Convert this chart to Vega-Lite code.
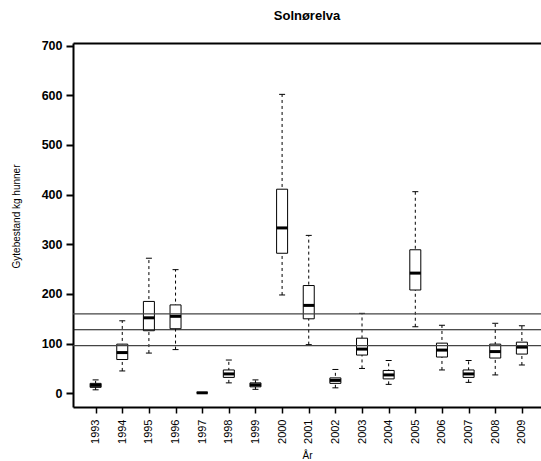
{
  "$schema": "https://vega.github.io/schema/vega-lite/v6.json",
  "autosize": "none",
  "width": 468,
  "height": 364,
  "padding": {"left": 73, "top": 43, "right": 0, "bottom": 54},
  "background": "white",
  "config": {
    "view": {"stroke": null},
    "font": "Liberation Sans"
  },
  "title": {
    "text": "Solnørelva",
    "fontSize": 13,
    "fontWeight": "bold",
    "font": "Liberation Sans",
    "color": "black",
    "offset": 17
  },
  "datasets": {
    "boxes": [
      {"year": 1993, "lo": 7, "q1": 12, "med": 16, "q3": 20, "hi": 27},
      {"year": 1994, "lo": 45, "q1": 68, "med": 82, "q3": 99, "hi": 146},
      {"year": 1995, "lo": 81, "q1": 126, "med": 152, "q3": 185, "hi": 272},
      {"year": 1996, "lo": 88, "q1": 130, "med": 155, "q3": 178, "hi": 249},
      {"year": 1997, "lo": 1, "q1": 1, "med": 1, "q3": 1, "hi": 1},
      {"year": 1998, "lo": 21, "q1": 32, "med": 39, "q3": 47, "hi": 67},
      {"year": 1999, "lo": 8, "q1": 13, "med": 17, "q3": 21, "hi": 27},
      {"year": 2000, "lo": 198, "q1": 282, "med": 333, "q3": 411, "hi": 602},
      {"year": 2001, "lo": 98, "q1": 150, "med": 177, "q3": 217, "hi": 318},
      {"year": 2002, "lo": 11, "q1": 20, "med": 26, "q3": 31, "hi": 48},
      {"year": 2003, "lo": 50, "q1": 77, "med": 89, "q3": 111, "hi": 161},
      {"year": 2004, "lo": 18, "q1": 29, "med": 37, "q3": 46, "hi": 66},
      {"year": 2005, "lo": 134, "q1": 208, "med": 242, "q3": 289, "hi": 406},
      {"year": 2006, "lo": 47, "q1": 73, "med": 87, "q3": 101, "hi": 137},
      {"year": 2007, "lo": 22, "q1": 32, "med": 39, "q3": 47, "hi": 66},
      {"year": 2008, "lo": 37, "q1": 71, "med": 84, "q3": 99, "hi": 141},
      {"year": 2009, "lo": 57, "q1": 79, "med": 93, "q3": 103, "hi": 136}
    ],
    "refs": [
      {"ref": 96, "kind": "a"},
      {"ref": 128, "kind": "b"},
      {"ref": 160, "kind": "a"}
    ]
  },
  "resolve": {"axis": {"x": "independent"}},
  "layer": [
    {
      "data": {"name": "boxes"},
      "mark": {"type": "rule", "strokeDash": [3, 3], "strokeWidth": 1, "color": "black"},
      "encoding": {
        "x": {
          "field": "year", "type": "quantitative",
          "scale": {"domain": [1992.339, 2009.53], "nice": false, "zero": false},
          "axis": {
            "orient": "bottom",
            "values": [1993,1994,1995,1996,1997,1998,1999,2000,2001,2002,2003,2004,2005,2006,2007,2008,2009],
            "format": "d",
            "labelAngle": 270,
            "labelFont": "Liberation Sans",
            "labelFontSize": 11,
            "labelColor": "black",
            "labelPadding": 6,
            "labelFlush": false,
            "labelOverlap": false,
            "labelBound": false,
            "tickSize": 6,
            "tickWidth": 1.5,
            "tickColor": "black",
            "domainColor": "black",
            "domainWidth": 2,
            "grid": false,
            "title": "År",
            "titleFont": "Liberation Sans",
            "titleFontSize": 10,
            "titleFontWeight": "normal",
            "titleColor": "black",
            "titlePadding": 7
          }
        },
        "y": {
          "field": "lo", "type": "quantitative",
          "scale": {"domain": [-27.6, 705.4], "nice": false, "zero": false},
          "axis": {
            "values": [0, 100, 200, 300, 400, 500, 600, 700],
            "labelFont": "Liberation Sans",
            "labelFontSize": 12.5,
            "labelFontWeight": "bold",
            "labelColor": "black",
            "labelPadding": 4,
            "labelFlush": false,
            "tickSize": 7,
            "tickWidth": 2,
            "tickColor": "black",
            "domainColor": "black",
            "domainWidth": 2,
            "grid": false,
            "title": "Gytebestand kg hunner",
            "titleFont": "Liberation Sans",
            "titleFontSize": 10,
            "titleFontWeight": "normal",
            "titleColor": "black",
            "titlePadding": 20,
            "titleY": 173
          }
        },
        "y2": {"field": "hi"}
      }
    },
    {
      "data": {"name": "boxes"},
      "mark": {"type": "bar", "width": 11, "fill": "white", "stroke": "black", "strokeWidth": 1},
      "encoding": {
        "x": {"field": "year", "type": "quantitative", "axis": {"orient": "top", "labels": false, "ticks": false, "domain": true, "domainColor": "black", "domainWidth": 2, "grid": false, "title": null}},
        "y": {"field": "q1", "type": "quantitative"},
        "y2": {"field": "q3"}
      }
    },
    {
      "data": {"name": "boxes"},
      "mark": {"type": "tick", "orient": "horizontal", "size": 11, "thickness": 3, "color": "black", "opacity": 1},
      "encoding": {
        "x": {"field": "year", "type": "quantitative", "axis": null},
        "y": {"field": "med", "type": "quantitative"}
      }
    },
    {
      "data": {"name": "boxes"},
      "mark": {"type": "tick", "orient": "horizontal", "size": 6, "thickness": 1, "color": "black", "opacity": 1},
      "encoding": {
        "x": {"field": "year", "type": "quantitative", "axis": null},
        "y": {"field": "hi", "type": "quantitative"}
      }
    },
    {
      "data": {"name": "boxes"},
      "mark": {"type": "tick", "orient": "horizontal", "size": 6, "thickness": 1, "color": "black", "opacity": 1},
      "encoding": {
        "x": {"field": "year", "type": "quantitative", "axis": null},
        "y": {"field": "lo", "type": "quantitative"}
      }
    },
    {
      "data": {"name": "refs"},
      "mark": {"type": "rule", "strokeWidth": 1.2},
      "encoding": {
        "y": {"field": "ref", "type": "quantitative"},
        "color": {"field": "kind", "type": "nominal", "scale": {"domain": ["a", "b"], "range": ["#444444", "#111111"]}, "legend": null}
      }
    }
  ]
}
